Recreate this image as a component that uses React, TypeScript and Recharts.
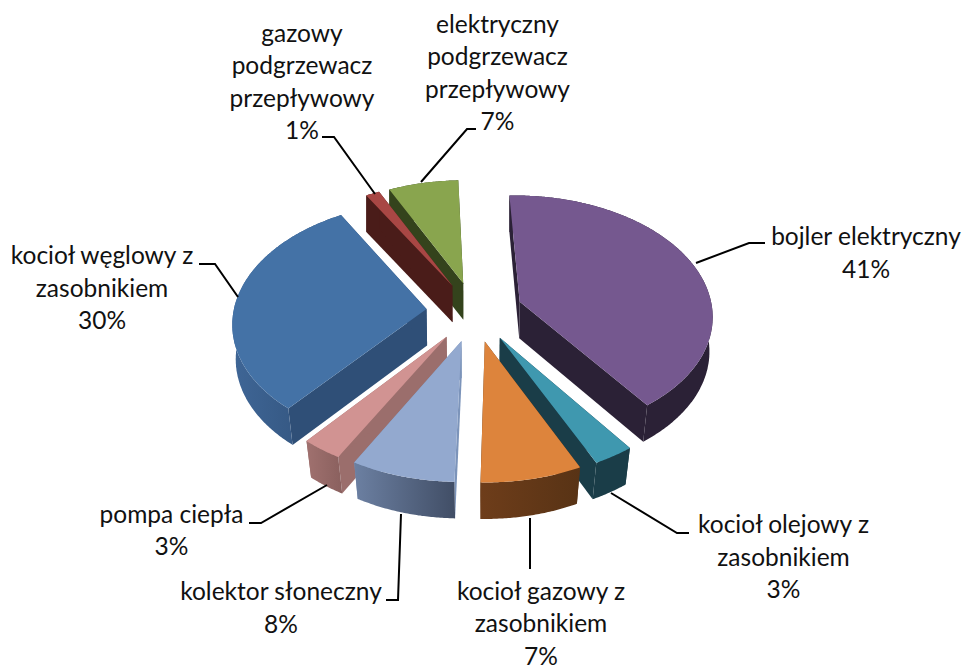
import React from "react";
import { PieChart, Pie } from "recharts";

const names = [
  "bojler elektryczny",
  "kocioł olejowy z zasobnikiem",
  "kocioł gazowy z zasobnikiem",
  "kolektor słoneczny",
  "pompa ciepła",
  "kocioł węglowy z zasobnikiem",
  "gazowy podgrzewacz przepływowy",
  "elektryczny podgrzewacz przepływowy",
];
const values = [40.5, 3, 7.45, 7.66, 3, 30.49, 1.3, 6.6];
const labelLines = [
  ["bojler elektryczny"],
  ["kocioł olejowy z", "zasobnikiem"],
  ["kocioł gazowy z", "zasobnikiem"],
  ["kolektor słoneczny"],
  ["pompa ciepła"],
  ["kocioł węglowy z", "zasobnikiem"],
  ["gazowy", "podgrzewacz", "przepływowy"],
  ["elektryczny", "podgrzewacz", "przepływowy"],
];

// styles: top face, first cut wall, last cut wall, outer wall gradient
const topColors = ["#75588F", "#3F98AF", "#DD843C", "#93A9CF", "#D19392", "#4472A6", "#A84744", "#89A54E"];
const startWall = ["#2B2136", "#1A3D48", "#5A3416", "#7C94BA", "#9B6E6C", "#2F4F77", "#4A1C19", "#34431C"];
const endWall = ["#2B2136", "#1A3D48", "#5A3416", "#7C94BA", "#9B6E6C", "#2F4F77", "#4A1C19", "#34431C"];
const wallFrom = ["#2B2136", "#1A3D48", "#6E3D1A", "#6C80A2", "#A0716F", "#3F6696", "#4A1C19", "#34431C"];
const wallTo = ["#2B2136", "#1A3D48", "#583315", "#414E66", "#8A605E", "#2F4F77", "#4A1C19", "#34431C"];

// label layout: text centre x, first baseline y, leader polyline
const labelX = [866, 783.5, 541, 281, 171.5, 102, 302, 497.5];
const labelY = [245, 533, 599.5, 600, 522.5, 264, 41.5, 32.5];
const leaders = [
  "696,263 749,243 765,243",
  "611,493 677,533 689,533",
  "530,518 530,569",
  "401,514 398,600 386,600",
  "327,485 261,523 249,523",
  "238,297 215,264 199,264",
  "375,194 334,137 322,137",
  "421,182 467,129 476,129",
];

const LINE_H = 32.5;
const EXPLODE = 0.25;
const PERSP = 0.105;
const TILT = 0.6186;
const DEPTH = 36.5;

const pieData = names.map((name, i) => ({ name, value: values[i], idx: i }));

function makeShape(visible: number[]) {
  return function Shape(props: any) {
    const idx: number = props.payload?.idx ?? props.idx;
    if (!visible.includes(idx)) return <g />;
    const { cx, cy, outerRadius: R } = props;
    const a0 = 90 - props.startAngle;
    const a1 = 90 - props.endAngle;
    const mid = ((a0 + a1) / 2) * (Math.PI / 180);
    const proj = (deg: number, r: number) => {
      const t = (deg * Math.PI) / 180;
      const u = EXPLODE * Math.sin(mid) + r * Math.sin(t);
      const v = EXPLODE * Math.cos(mid) + r * Math.cos(t);
      const w = 1 + PERSP * v;
      return [cx + (R * u) / w, cy - (R * TILT * v) / w];
    };
    const down = (p: number[]) => {
      const v = (cy - p[1]) / (R * TILT);
      const s = Math.min(1, 0.987 + 0.013 * v);
      return [cx + (p[0] - cx) * s, p[1] + DEPTH];
    };
    const str = (pts: number[][]) => pts.map((p) => `${p[0].toFixed(1)},${p[1].toFixed(1)}`).join(" ");
    const arc: number[][] = [];
    const steps = Math.max(2, Math.ceil((a1 - a0) * 2));
    for (let k = 0; k <= steps; k++) arc.push(proj(a0 + ((a1 - a0) * k) / steps, 1));
    const apex = proj(0, 0);
    const gid = `wall-${idx}`;
    return (
      <g>
        <defs>
          <linearGradient id={gid} x1="0" y1="0" x2="1" y2="0">
            <stop offset="0" stopColor={wallFrom[idx]} />
            <stop offset="1" stopColor={wallTo[idx]} />
          </linearGradient>
        </defs>
        <polygon points={str([apex, arc[0], down(arc[0]), down(apex)])} fill={startWall[idx]} />
        <polygon points={str([apex, arc[steps], down(arc[steps]), down(apex)])} fill={endWall[idx]} />
        <polygon points={str([...arc, ...arc.map(down).reverse()])} fill={`url(#${gid})`} />
        <polygon points={str([apex, ...arc])} fill={topColors[idx]} />
      </g>
    );
  };
}

const renderLabel = (props: any) => {
  const idx: number = props.payload?.idx ?? props.idx ?? props.index;
  const lines = [...labelLines[idx], `${Math.round(props.percent * 100)}%`];
  return (
    <g key={idx}>
      <polyline points={leaders[idx]} fill="none" stroke="#000" strokeWidth={2} />
      <text x={labelX[idx]} y={labelY[idx]} textAnchor="middle" fontFamily="Lato" fontSize={24.5} fill="#111">
        {lines.map((l, k) => (
          <tspan key={k} x={labelX[idx]} y={labelY[idx] + k * LINE_H}>
            {l}
          </tspan>
        ))}
      </text>
    </g>
  );
};

const firstPass = [0, 1, 2, 4, 5, 7];
const secondPass = [3, 6];

export default function App() {
  return (
    <div style={{ position: "absolute", left: 0, top: 0, width: 965, height: 668 }}>
      <PieChart width={965} height={668} margin={{ top: 0, right: 0, bottom: 0, left: 0 }}>
        <Pie
          data={pieData}
          dataKey="value"
          nameKey="name"
          cx={474.5}
          cy={311.5}
          innerRadius={0}
          outerRadius={193}
          startAngle={92}
          endAngle={-268}
          isAnimationActive={false}
          labelLine={false}
          label={renderLabel}
          shape={makeShape(firstPass)}
          stroke="none"
        />
        <Pie
          data={pieData}
          dataKey="value"
          nameKey="name"
          cx={474.5}
          cy={311.5}
          innerRadius={0}
          outerRadius={193}
          startAngle={92}
          endAngle={-268}
          isAnimationActive={false}
          labelLine={false}
          label={false}
          shape={makeShape(secondPass)}
          stroke="none"
        />
      </PieChart>
    </div>
  );
}
